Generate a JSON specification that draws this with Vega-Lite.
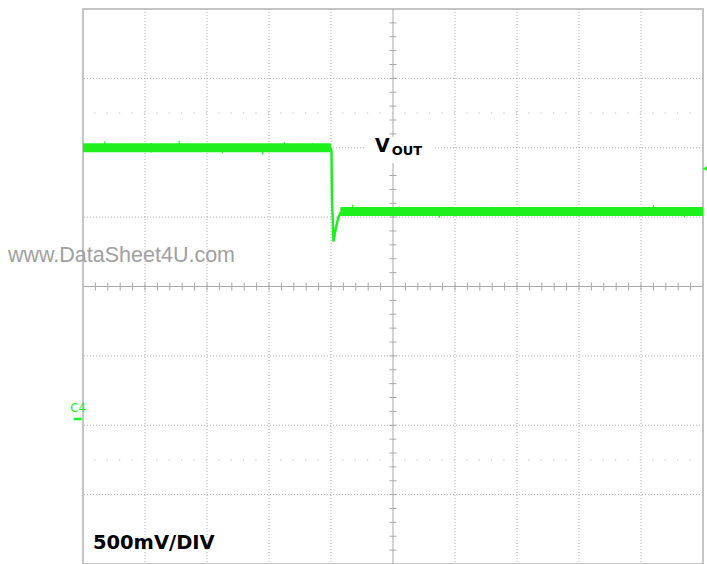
{
  "$schema": "https://vega.github.io/schema/vega-lite/v6.json",
  "width": 620,
  "height": 555,
  "autosize": {"type": "none"},
  "padding": {"left": 83, "top": 9, "right": 4, "bottom": 0},
  "background": "white",
  "config": {"view": {"stroke": "#c4c4c4", "strokeWidth": 2}},
  "datasets": {
    "vgrid": [{"t": 1}, {"t": 2}, {"t": 3}, {"t": 4}, {"t": 6}, {"t": 7}, {"t": 8}, {"t": 9}],
    "hgrid": [{"v": -3}, {"v": -2}, {"v": -1}, {"v": 1}, {"v": 2}, {"v": 3}],
    "dotrows": [{"v": 2.5}, {"v": -2.5}],
    "xticks": [
      {"t": 0.2, "v": 0}, {"t": 0.4, "v": 0}, {"t": 0.6, "v": 0}, {"t": 0.8, "v": 0}, {"t": 1.0, "v": 0}, {"t": 1.2, "v": 0}, {"t": 1.4, "v": 0}, {"t": 1.6, "v": 0}, {"t": 1.8, "v": 0}, {"t": 2.0, "v": 0},
      {"t": 2.2, "v": 0}, {"t": 2.4, "v": 0}, {"t": 2.6, "v": 0}, {"t": 2.8, "v": 0}, {"t": 3.0, "v": 0}, {"t": 3.2, "v": 0}, {"t": 3.4, "v": 0}, {"t": 3.6, "v": 0}, {"t": 3.8, "v": 0}, {"t": 4.0, "v": 0},
      {"t": 4.2, "v": 0}, {"t": 4.4, "v": 0}, {"t": 4.6, "v": 0}, {"t": 4.8, "v": 0}, {"t": 5.2, "v": 0}, {"t": 5.4, "v": 0}, {"t": 5.6, "v": 0}, {"t": 5.8, "v": 0}, {"t": 6.0, "v": 0},
      {"t": 6.2, "v": 0}, {"t": 6.4, "v": 0}, {"t": 6.6, "v": 0}, {"t": 6.8, "v": 0}, {"t": 7.0, "v": 0}, {"t": 7.2, "v": 0}, {"t": 7.4, "v": 0}, {"t": 7.6, "v": 0}, {"t": 7.8, "v": 0}, {"t": 8.0, "v": 0},
      {"t": 8.2, "v": 0}, {"t": 8.4, "v": 0}, {"t": 8.6, "v": 0}, {"t": 8.8, "v": 0}, {"t": 9.0, "v": 0}, {"t": 9.2, "v": 0}, {"t": 9.4, "v": 0}, {"t": 9.6, "v": 0}, {"t": 9.8, "v": 0}
    ],
    "yticks": [
      {"t": 5, "v": -3.8}, {"t": 5, "v": -3.6}, {"t": 5, "v": -3.4}, {"t": 5, "v": -3.2}, {"t": 5, "v": -3.0}, {"t": 5, "v": -2.8}, {"t": 5, "v": -2.6}, {"t": 5, "v": -2.4}, {"t": 5, "v": -2.2}, {"t": 5, "v": -2.0},
      {"t": 5, "v": -1.8}, {"t": 5, "v": -1.6}, {"t": 5, "v": -1.4}, {"t": 5, "v": -1.2}, {"t": 5, "v": -1.0}, {"t": 5, "v": -0.8}, {"t": 5, "v": -0.6}, {"t": 5, "v": -0.4}, {"t": 5, "v": -0.2},
      {"t": 5, "v": 0.2}, {"t": 5, "v": 0.4}, {"t": 5, "v": 0.6}, {"t": 5, "v": 0.8}, {"t": 5, "v": 1.0}, {"t": 5, "v": 1.2}, {"t": 5, "v": 1.4}, {"t": 5, "v": 1.6}, {"t": 5, "v": 1.8}, {"t": 5, "v": 2.0},
      {"t": 5, "v": 2.2}, {"t": 5, "v": 2.4}, {"t": 5, "v": 2.6}, {"t": 5, "v": 2.8}, {"t": 5, "v": 3.0}, {"t": 5, "v": 3.2}, {"t": 5, "v": 3.4}, {"t": 5, "v": 3.6}, {"t": 5, "v": 3.8}
    ],
    "trace": [
      {"part": "hi", "t": 0.0, "v": 2.0},
      {"part": "hi", "t": 4.0, "v": 2.0},
      {"part": "edge", "t": 3.995, "v": 2.0},
      {"part": "edge", "t": 4.008, "v": 1.95},
      {"part": "edge", "t": 4.016, "v": 1.25},
      {"part": "edge", "t": 4.04, "v": 0.65},
      {"part": "edge", "t": 4.08, "v": 0.85},
      {"part": "edge", "t": 4.12, "v": 1.0},
      {"part": "edge", "t": 4.16, "v": 1.07},
      {"part": "lo", "t": 4.15, "v": 1.08},
      {"part": "lo", "t": 10.0, "v": 1.08}
    ],
    "spikes": [
      {"t": 0.35, "v": 1.95, "v2": 2.09},
      {"t": 1.1, "v": 1.93, "v2": 2.07},
      {"t": 1.55, "v": 1.95, "v2": 2.1},
      {"t": 2.25, "v": 1.92, "v2": 2.05},
      {"t": 2.9, "v": 1.9, "v2": 2.0},
      {"t": 3.25, "v": 1.95, "v2": 2.08},
      {"t": 3.7, "v": 1.95, "v2": 2.07},
      {"t": 4.35, "v": 1.05, "v2": 1.18},
      {"t": 5.1, "v": 1.05, "v2": 1.15},
      {"t": 5.75, "v": 0.99, "v2": 1.1},
      {"t": 6.6, "v": 1.05, "v2": 1.15},
      {"t": 7.4, "v": 1.05, "v2": 1.14},
      {"t": 8.55, "v": 1.05, "v2": 1.14},
      {"t": 9.2, "v": 1.05, "v2": 1.17},
      {"t": 9.7, "v": 1.0, "v2": 1.1}
    ]
  },
  "encoding": {
    "x": {"field": "t", "type": "quantitative", "scale": {"domain": [0, 10], "nice": false, "zero": false}, "axis": null},
    "y": {"field": "v", "type": "quantitative", "scale": {"domain": [-4, 4], "nice": false, "zero": false}, "axis": null}
  },
  "layer": [
    {
      "data": {"name": "vgrid"},
      "mark": {"type": "rule", "color": "#b0b0b0", "strokeWidth": 1, "strokeDash": [1, 2]},
      "encoding": {"y": null}
    },
    {
      "data": {"name": "hgrid"},
      "mark": {"type": "rule", "color": "#b0b0b0", "strokeWidth": 1, "strokeDash": [1, 2]},
      "encoding": {"x": null}
    },
    {
      "data": {"name": "dotrows"},
      "mark": {"type": "rule", "color": "#c8c8c8", "strokeWidth": 1.2, "strokeDash": [1.2, 11.2]},
      "encoding": {"x": null}
    },
    {
      "data": {"values": [{"t": 5}]},
      "mark": {"type": "rule", "color": "#a8a8a8", "strokeWidth": 1},
      "encoding": {"y": null}
    },
    {
      "data": {"values": [{"v": 0}]},
      "mark": {"type": "rule", "color": "#a8a8a8", "strokeWidth": 1},
      "encoding": {"x": null}
    },
    {
      "data": {"name": "xticks"},
      "mark": {"type": "tick", "orient": "vertical", "color": "#a8a8a8", "size": 8, "thickness": 1, "opacity": 1},
      "encoding": {}
    },
    {
      "data": {"name": "yticks"},
      "mark": {"type": "tick", "orient": "horizontal", "color": "#a8a8a8", "size": 7, "thickness": 1, "opacity": 1},
      "encoding": {}
    },
    {
      "data": {"name": "trace"},
      "transform": [{"filter": "datum.part !== 'edge'"}],
      "mark": {"type": "line", "color": "#1ef01e", "strokeWidth": 9, "strokeCap": "butt"},
      "encoding": {"detail": {"field": "part"}}
    },
    {
      "data": {"name": "trace"},
      "transform": [{"filter": "datum.part === 'edge'"}],
      "mark": {"type": "line", "color": "#1ef01e", "strokeWidth": 2.5},
      "encoding": {}
    },
    {
      "data": {"name": "spikes"},
      "mark": {"type": "rule", "color": "#1ef01e", "strokeWidth": 1.2},
      "encoding": {"y2": {"field": "v2"}}
    },
    {
      "data": {"values": [{"t": 4.565, "t2": 5.68, "v": 2.16, "v2": 1.78}]},
      "mark": {"type": "rect", "color": "white"},
      "encoding": {"x2": {"field": "t2"}, "y2": {"field": "v2"}}
    },
    {
      "data": {"values": [{"t": 4.71, "v": 1.94, "label": "V"}]},
      "mark": {"type": "text", "align": "left", "baseline": "alphabetic", "font": "DejaVu Sans", "fontWeight": "bold", "fontSize": 19, "color": "black"},
      "encoding": {"text": {"field": "label"}}
    },
    {
      "data": {"values": [{"t": 4.98, "v": 1.89, "label": "OUT"}]},
      "mark": {"type": "text", "align": "left", "baseline": "alphabetic", "font": "DejaVu Sans", "fontWeight": "bold", "fontSize": 13, "color": "black"},
      "encoding": {"text": {"field": "label"}}
    },
    {
      "data": {"values": [{"t": 0.16, "v": -3.78, "label": "500mV/DIV"}]},
      "mark": {"type": "text", "align": "left", "baseline": "alphabetic", "font": "DejaVu Sans", "fontWeight": "bold", "fontSize": 19.5, "color": "black"},
      "encoding": {"text": {"field": "label"}}
    },
    {
      "data": {"values": [{"t": -0.08, "v": -1.81, "label": "C4"}]},
      "mark": {"type": "text", "align": "center", "baseline": "alphabetic", "font": "DejaVu Sans Condensed", "fontSize": 13, "color": "#1ef01e", "clip": false},
      "encoding": {"text": {"field": "label"}}
    },
    {
      "data": {"values": [{"t": -0.15, "t2": -0.02, "v": -1.91}]},
      "mark": {"type": "rule", "color": "#1ef01e", "strokeWidth": 2.5, "clip": false},
      "encoding": {"x2": {"field": "t2"}}
    },
    {
      "data": {"values": [{"t": 10.035, "v": 1.7}]},
      "mark": {"type": "point", "shape": "triangle-left", "filled": true, "size": 30, "color": "#1ef01e", "opacity": 1, "clip": false},
      "encoding": {}
    },
    {
      "data": {"values": [{"t": -1.21, "v": 0.36, "label": "www.DataSheet4U.com"}]},
      "mark": {"type": "text", "align": "left", "baseline": "alphabetic", "font": "Liberation Sans", "fontSize": 21.5, "color": "#a0a0a0", "clip": false},
      "encoding": {"text": {"field": "label"}}
    }
  ]
}
